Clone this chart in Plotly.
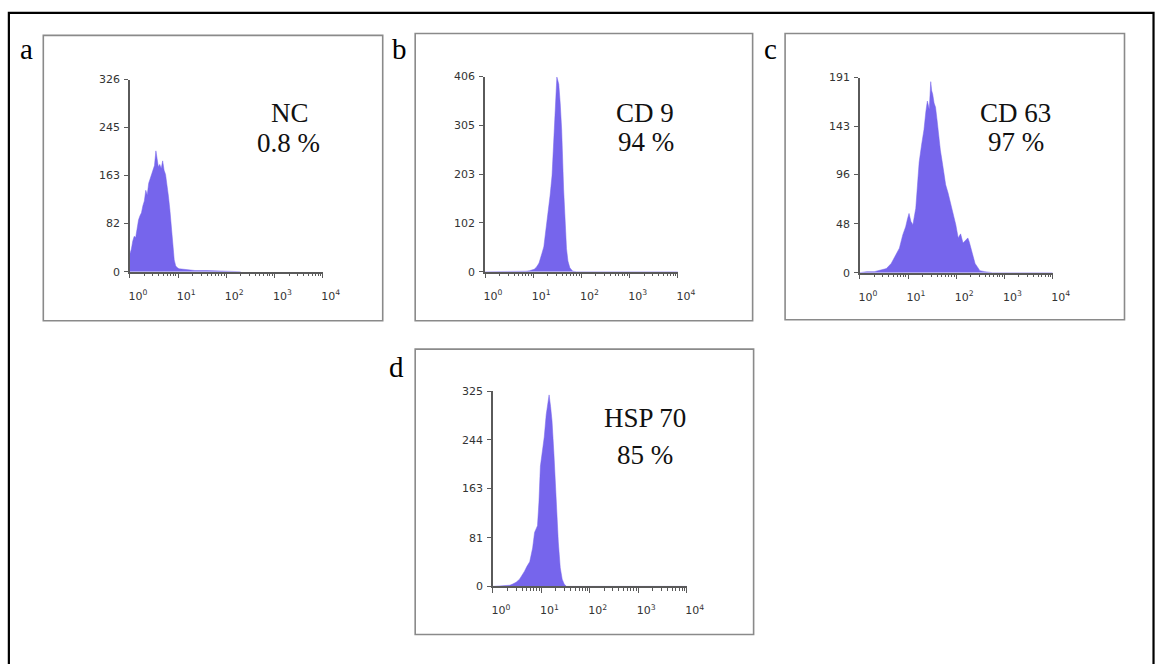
import plotly.graph_objects as go

# ---------------- data ----------------
# x positions are log10 fluorescence intensity, y are event counts
nc_log = [0.00, 0.03, 0.06, 0.09, 0.12, 0.15, 0.18, 0.21, 0.24, 0.27, 0.30, 0.33, 0.36,
          0.39, 0.42, 0.45, 0.48, 0.51, 0.54, 0.56, 0.59, 0.62, 0.65, 0.68, 0.71, 0.74,
          0.77, 0.80, 0.83, 0.86, 0.89, 0.92, 0.95, 0.98, 1.02, 1.10, 1.20, 1.35, 1.60,
          1.90, 2.10, 2.30]
nc_cnt = [30, 38, 52, 60, 58, 75, 88, 95, 100, 112, 120, 138, 130,
          150, 158, 165, 172, 180, 205, 190, 178, 182, 175, 188, 172, 165,
          150, 128, 105, 75, 45, 20, 10, 7, 5, 4, 3, 2, 2,
          1, 1, 0]

cd9_log = [0.00, 0.70, 0.85, 0.92, 0.98, 1.02, 1.07, 1.12, 1.18, 1.22, 1.25, 1.29, 1.32,
           1.35, 1.39, 1.43, 1.46, 1.49, 1.51, 1.53, 1.56, 1.59, 1.63, 1.66, 1.69, 1.72,
           1.76, 1.82, 1.90, 4.00]
cd9_cnt = [0, 0, 1, 2, 3, 5, 10, 18, 38, 52, 77, 110, 128,
           159, 200, 295, 360, 405, 398, 390, 350, 295, 172, 100, 48, 22,
           8, 1, 0, 0]

cd63_log = [0.00, 0.14, 0.30, 0.41, 0.55, 0.65, 0.75, 0.82, 0.89, 0.95, 0.99, 1.02, 1.06,
            1.10, 1.16, 1.20, 1.23, 1.28, 1.33, 1.37, 1.40, 1.44, 1.47, 1.49, 1.51, 1.54,
            1.57, 1.60, 1.63, 1.67, 1.71, 1.75, 1.78, 1.83, 1.88, 1.94, 1.99, 2.04, 2.09,
            2.14, 2.19, 2.24, 2.27, 2.31, 2.35, 2.39, 2.44, 2.49, 2.59, 2.75, 4.00]
cd63_cnt = [0, 1, 1, 2, 4, 9, 18, 24, 37, 45, 53, 58, 50,
            47, 63, 88, 108, 125, 140, 158, 168, 160, 187, 178, 175, 166,
            162, 150, 134, 120, 108, 95, 86, 78, 69, 58, 47, 34, 38,
            29, 32, 34, 30, 24, 16, 9, 5, 2, 1, 0, 0]

hsp70_log = [0.00, 0.20, 0.35, 0.41, 0.48, 0.55, 0.60, 0.65, 0.70, 0.76, 0.82, 0.86, 0.92,
             0.95, 0.98, 1.02, 1.06, 1.10, 1.13, 1.16, 1.19, 1.22, 1.26, 1.29, 1.32, 1.35,
             1.39, 1.43, 1.47, 1.52, 4.00]
hsp70_cnt = [0, 1, 2, 4, 7, 12, 18, 25, 33, 41, 64, 90, 101,
             140, 200, 225, 249, 286, 300, 319, 300, 276, 220, 167, 118, 74,
             31, 12, 4, 0, 0]

panel_letters = ["a", "b", "c", "d"]
marker_names = ["NC", "CD 9", "CD 63", "HSP 70"]
positive_pct = ["0.8 %", "94 %", "97 %", "85 %"]
y_tick_vals = [[0, 82, 163, 245, 326],
               [0, 102, 203, 305, 406],
               [0, 48, 96, 143, 191],
               [0, 81, 163, 244, 325]]
x_tick_vals = [1, 10, 100, 1000, 10000]
x_tick_text = ["10<sup>0</sup>", "10<sup>1</sup>", "10<sup>2</sup>",
               "10<sup>3</sup>", "10<sup>4</sup>"]

series_log = [nc_log, cd9_log, cd63_log, hsp70_log]
series_cnt = [nc_cnt, cd9_cnt, cd63_cnt, hsp70_cnt]

# ---------------- layout geometry (pixels) ----------------
W, H = 1173, 664
def px(x):
    return x / W
def py(y):
    return 1 - y / H

# plot areas: (left, right, top, bottom)
plot_areas = [(131, 327, 75, 271), (492, 688, 72, 271), (873, 1069, 73, 272), (500, 697, 393, 592)]
# framed boxes around each panel
boxes = [(43, 388, 30, 321), (421, 764, 28, 321), (797, 1142, 28, 320), (421, 765, 350, 641)]
letter_pos = [(26, 44), (405, 44), (782, 44), (402, 368)]
name_pos = [(294, 109), (655, 109), (1031, 109), (655, 420)]
pct_pos = [(292, 140), (656, 139), (1032, 139), (655, 458)]

FILL = "rgb(118,101,236)"
AX = "#5a5a5a"
TICKFONT = dict(family="DejaVu Sans", size=11, color="#333333")
SERIF = "Liberation Serif"

minor_vals = [m * 10 ** d for d in range(4) for m in range(2, 10)]

fig = go.Figure()
layout = dict(
    width=W, height=H, autosize=False,
    margin=dict(l=0, r=0, t=0, b=0, pad=0),
    paper_bgcolor="white", plot_bgcolor="rgba(0,0,0,0)",
    showlegend=False,
)

for i in range(4):
    sfx = "" if i == 0 else str(i + 1)
    l, r, t, b = plot_areas[i]
    xs = [10 ** v for v in series_log[i]]
    fig.add_trace(go.Scatter(
        x=xs, y=series_cnt[i], mode="lines", line=dict(width=0.5, color=FILL),
        fill="tozeroy", fillcolor=FILL, xaxis="x" + sfx, yaxis="y" + sfx,
        hoverinfo="skip"))
    layout["xaxis" + sfx] = dict(
        domain=[px(l), px(r)], anchor="y" + sfx, type="log", range=[0, 4],
        tickmode="array", tickvals=x_tick_vals, ticktext=x_tick_text,
        ticks="outside", ticklen=5, tickwidth=1.2, tickcolor=AX,
        minor=dict(tickmode="array", tickvals=minor_vals, ticks="outside",
                   ticklen=3, tickwidth=1, tickcolor=AX, showgrid=False),
        showline=True, linecolor=AX, linewidth=1.5,
        showgrid=False, zeroline=False, tickfont=TICKFONT,
        ticklabelstandoff=8, ticklabelshift=8, fixedrange=True)
    layout["yaxis" + sfx] = dict(
        domain=[py(b), py(t)], anchor="x" + sfx, range=[0, y_tick_vals[i][-1]],
        tickmode="array", tickvals=y_tick_vals[i],
        ticktext=[str(v) for v in y_tick_vals[i]],
        ticks="outside", ticklen=4, tickwidth=1.2, tickcolor=AX,
        showline=True, linecolor=AX, linewidth=1.5,
        showgrid=False, zeroline=False, tickfont=TICKFONT,
        ticklabelstandoff=2, fixedrange=True)

shapes = [dict(type="rect", xref="paper", yref="paper",
               x0=px(8), x1=px(1171.5), y0=py(7), y1=py(680),
               line=dict(color="black", width=2.2))]
for (l, r, t, b) in boxes:
    shapes.append(dict(type="rect", xref="paper", yref="paper",
                       x0=px(l), x1=px(r), y0=py(b), y1=py(t),
                       line=dict(color="#8a8a8a", width=1.6)))

annotations = []
for i in range(4):
    annotations.append(dict(text=panel_letters[i], xref="paper", yref="paper",
                            x=px(letter_pos[i][0]), y=py(letter_pos[i][1]),
                            xanchor="center", yanchor="middle", showarrow=False,
                            font=dict(family=SERIF, size=29, color="black")))
    annotations.append(dict(text=marker_names[i], xref="paper", yref="paper",
                            x=px(name_pos[i][0]), y=py(name_pos[i][1]),
                            xanchor="center", yanchor="middle", showarrow=False,
                            font=dict(family=SERIF, size=27, color="#111")))
    annotations.append(dict(text=positive_pct[i], xref="paper", yref="paper",
                            x=px(pct_pos[i][0]), y=py(pct_pos[i][1]),
                            xanchor="center", yanchor="middle", showarrow=False,
                            font=dict(family=SERIF, size=27, color="#111")))

layout["shapes"] = shapes
layout["annotations"] = annotations
fig.update_layout(**layout)
fig.write_html("out.html", post_script="document.body.style.margin='0';")
